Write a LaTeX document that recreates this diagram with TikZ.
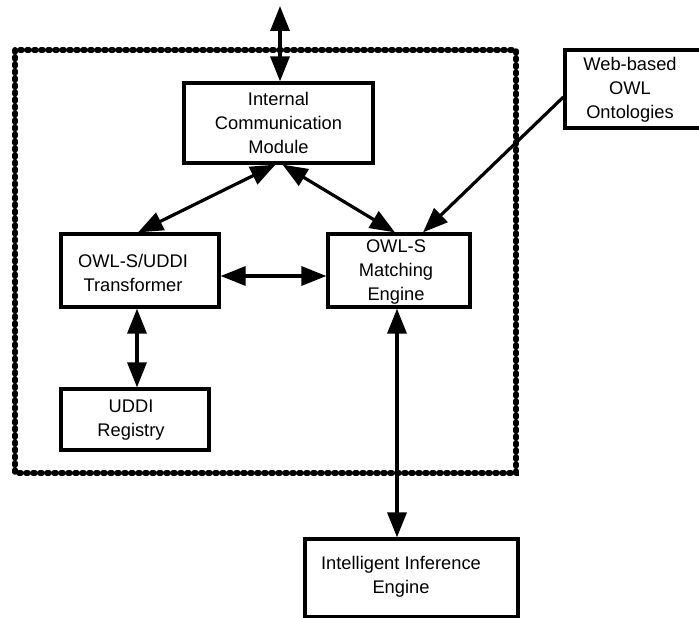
\documentclass[tikz,border=0pt]{standalone}
\usepackage{fontspec}
\setmainfont{Liberation Sans}
\usetikzlibrary{arrows.meta}
\tikzset{
  box/.style={draw=black, line width=3.2pt, rectangle, inner sep=0pt},
  txt/.style={align=center, inner sep=0pt, font={\fontsize{18.3}{24}\selectfont}},
  conn/.style={line width=3.2pt, {Triangle[length=25pt,width=19pt]}-{Triangle[length=25pt,width=19pt]}},
  oneway/.style={line width=3.2pt, -{Triangle[length=25pt,width=19pt]}},
  border/.style={line width=5.5pt, line cap=round, dash pattern=on 2pt off 5pt}
}
\begin{document}
\begin{tikzpicture}[x=1pt,y=-1pt]
\useasboundingbox (0,0) rectangle (699,618);
\clip (0,0) rectangle (699,618);
% dotted enclosure
\draw[border] (15,50) rectangle (516,473);
% boxes
\node[box, minimum width=189pt, minimum height=80pt] (icm) at (278.5,123) {};
\node[box, minimum width=158pt, minimum height=73pt] (tr) at (140,270.5) {};
\node[box, minimum width=148pt, minimum height=61pt] (uddi) at (135,419.5) {};
\node[box, minimum width=142pt, minimum height=73pt] (me) at (399,270.5) {};
\node[box, minimum width=190pt, minimum height=78pt] (web) at (660,89) {};
\node[box, minimum width=213pt, minimum height=78pt] (iie) at (411.5,578) {};
% texts
\node[txt] (icmt) at (278.5,123) {Internal\\Communication\\Module};
\node[txt] (trt) at (133,273) {OWL-S/UDDI\\Transformer};
\node[txt] (uddit) at (131,420) {UDDI\\Registry};
\node[txt] (met) at (396,272) {OWL-S\\Matching\\Engine};
\node[txt] (webt) at (630,90) {Web-based\\OWL\\Ontologies};
\node[txt] (iiet) at (401,576.5) {Intelligent Inference\\Engine};
% connectors
\coordinate (ext) at (280,6);
\draw[conn] (ext) -- (ext |- icm.north);
\draw[conn] ([xshift=-3pt]icm.south) -- ([xshift=-2pt]tr.north);
\draw[conn] ([xshift=4pt]icm.south) -- ([xshift=-4pt]me.north);
\draw[oneway] ([yshift=-8pt]web.west) -- ([xshift=24pt]me.north);
\draw[conn] ([yshift=-5.5pt]tr.east) -- ([yshift=-5.5pt]me.west);
\draw[conn] ([xshift=-3pt]tr.south) -- ([xshift=-3pt]tr.south |- uddi.north);
\draw[conn] ([xshift=-2pt]me.south) -- ([xshift=-2pt]me.south |- iie.north);
\end{tikzpicture}
\end{document}
